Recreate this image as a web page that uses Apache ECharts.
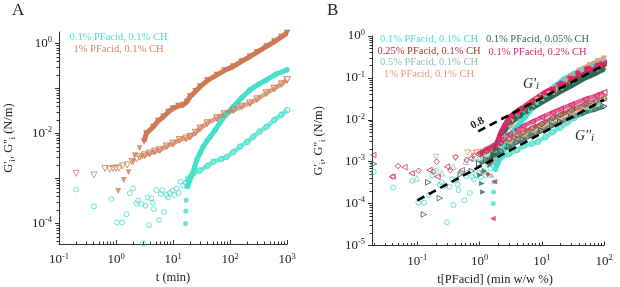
<!DOCTYPE html>
<html><head><meta charset="utf-8">
<script src="https://cdn.jsdelivr.net/npm/echarts@6/dist/echarts.min.js"></script>
<style>html,body{margin:0;padding:0;background:#fff}#c{width:620px;height:287px}</style>
</head><body><div id="c"></div>
<script>
// ---------- Panel A data: [t (min), modulus (N/m)] ----------
const aTealGddScatter = [[0.2,5.7e-4],[0.41,2.4e-4],[0.83,3.5e-4],[1.04,1.05e-4],[1.28,1.05e-4],[1.53,1.6e-4],[1.75,4.7e-4],[2.0,6e-4],[2.3,2.8e-4],[2.45,3.2e-4],[2.8,2.7e-4],[3.0,3.6e-5],[3.3,2.5e-4],[3.6,3.8e-4],[3.8,9.2e-5],[4.2,3.6e-4],[4.4,2.9e-4],[4.6,2.1e-4],[5.1,5.5e-4],[5.7,1.2e-4],[6.1,4.5e-4],[6.5,5.5e-4],[7.0,1.8e-4],[7.7,4.3e-4],[8.2,3.8e-4],[8.8,4.8e-4],[9.8,5.4e-4],[10.5,4.3e-4],[11.5,6e-4],[12.6,4.8e-4],[13.5,8.5e-4],[15,7e-4]];
const aTealGddBand = [[17,8e-4],[18.5,1e-3],[22.6,1.3e-3],[29.5,1.5e-3],[40,1.9e-3],[51,2.35e-3],[70,2.7e-3],[87,3e-3],[115,3.9e-3],[150,5.1e-3],[200,6.5e-3],[257,8.5e-3],[330,1.1e-2],[436,1.4e-2],[600,2e-2],[800,2.6e-2],[1000,3.3e-2]];
const aTealGdScatter = [[16.6,1e-4],[16.8,1.9e-4],[17,3.3e-4]];
const aTealGdBand = [[18,6.6e-4],[19.5,9e-4],[21.5,1.2e-3],[24,1.8e-3],[26,2.6e-3],[30,3.7e-3],[34,5.1e-3],[40,7e-3],[45,8.5e-3],[55,1.2e-2],[66,1.7e-2],[85,2.6e-2],[115,4e-2],[160,6.2e-2],[224,9.3e-2],[320,0.125],[436,0.155],[650,0.21],[1000,0.26]];
const aBrownGdScatter = [[1.09,5.3e-4],[1.37,9.2e-4],[1.66,1.37e-3],[2.0,2.35e-3],[2.14,3.3e-3],[2.6,4.7e-3]];
const aBrownGdBand = [[3.1,6.6e-3],[3.4,1e-2],[4.5,1.4e-2],[5.5,1.9e-2],[6.8,2.35e-2],[8.3,3e-2],[10,3.6e-2],[12.5,4.1e-2],[15,4.3e-2],[17.5,5e-2],[20,6.6e-2],[25,8.7e-2],[30,0.11],[40,0.15],[59,0.2],[80,0.25],[115,0.31],[160,0.4],[224,0.51],[300,0.64],[436,0.86],[600,1.1],[800,1.4],[1000,1.7]];
const aBrownGddScatter = [[0.2,1.3e-3],[0.41,1.2e-3],[0.64,1.67e-3],[0.78,1.6e-3],[0.89,1.67e-3],[1.0,1.7e-3],[1.13,1.7e-3],[1.3,1.9e-3],[1.58,2e-3],[1.9,2.4e-3],[2.3,2.7e-3]];
const aBrownGddBand = [[2.6,3e-3],[3.2,3.3e-3],[3.9,3.6e-3],[4.8,4e-3],[5.9,4.3e-3],[7.7,5.2e-3],[10,6e-3],[13,7.2e-3],[17,7.8e-3],[20,8.5e-3],[25,1.05e-2],[30,1.3e-2],[40,1.7e-2],[59,2.2e-2],[80,2.7e-2],[115,3.3e-2],[160,4e-2],[224,4.7e-2],[300,5.8e-2],[436,7.9e-2],[600,0.1],[800,0.125],[1000,0.155]];

// ---------- Panel B data: [t*[PFacid] (min w/w %), modulus (N/m)] ----------
const bTealGdScatter = [[1.66,1e-4],[1.68,1.9e-4],[1.7,3.3e-4]];
const bTealGdBand = [[1.8,6.6e-4],[1.95,9e-4],[2.15,1.2e-3],[2.4,1.8e-3],[2.6,2.6e-3],[3.0,3.7e-3],[3.4,5.1e-3],[4.0,7e-3],[4.5,8.5e-3],[5.5,1.2e-2],[6.6,1.7e-2],[8.5,2.6e-2],[11.5,4e-2],[16,6.2e-2],[22.4,9.3e-2],[32,0.125],[43.6,0.155],[65,0.21],[100,0.26]];
const bTealGddScatter = [[0.02,5.7e-4],[0.041,2.4e-4],[0.083,3.5e-4],[0.104,1.05e-4],[0.128,1.05e-4],[0.153,1.6e-4],[0.175,4.7e-4],[0.2,6e-4],[0.23,2.8e-4],[0.245,3.2e-4],[0.28,2.7e-4],[0.3,3.6e-5],[0.33,2.5e-4],[0.36,3.8e-4],[0.38,9.2e-5],[0.42,3.6e-4],[0.44,2.9e-4],[0.46,2.1e-4],[0.51,5.5e-4],[0.57,1.2e-4],[0.61,4.5e-4],[0.65,5.5e-4],[0.7,1.8e-4],[0.77,4.3e-4],[0.82,3.8e-4],[0.88,4.8e-4],[0.98,5.4e-4],[1.05,4.3e-4],[1.15,6e-4],[1.26,4.8e-4],[1.35,8.5e-4],[1.5,7e-4]];
const bTealGddBand = [[1.7,8e-4],[1.85,1e-3],[2.26,1.3e-3],[2.95,1.5e-3],[4,1.9e-3],[5.1,2.35e-3],[7,2.7e-3],[8.7,3e-3],[11.5,3.9e-3],[15,5.1e-3],[20,6.5e-3],[25.7,8.5e-3],[33,1.1e-2],[43.6,1.4e-2],[60,2e-2],[80,2.6e-2],[100,3.3e-2]];

const bSalmonGdScatter = [[1.09,5.3e-4],[1.37,9.2e-4],[1.66,1.37e-3],[2.0,2.35e-3],[2.14,3.3e-3],[2.6,4.7e-3]];
const bSalmonGdBand = [[3.1,6.6e-3],[3.4,1e-2],[4.5,1.4e-2],[5.5,1.9e-2],[6.8,2.35e-2],[8.3,3e-2],[10,3.6e-2],[12.5,4.1e-2],[15,4.3e-2],[17.5,5e-2],[20,6.6e-2],[25,8.7e-2],[30,0.11],[40,0.15],[59,0.2],[80,0.25],[100,0.29]];
const bSalmonGddScatter = [[0.2,1.3e-3],[0.41,1.2e-3],[0.64,1.67e-3],[0.78,1.6e-3],[0.89,1.67e-3],[1.0,1.7e-3],[1.13,1.7e-3],[1.3,1.9e-3],[1.58,2e-3],[1.9,2.4e-3],[2.3,2.7e-3]];
const bSalmonGddBand = [[2.6,3e-3],[3.2,3.3e-3],[3.9,3.6e-3],[4.8,4e-3],[5.9,4.3e-3],[7.7,5.2e-3],[10,6e-3],[13,7.2e-3],[17,7.8e-3],[20,8.5e-3],[25,1.05e-2],[30,1.3e-2],[40,1.7e-2],[59,2.2e-2],[80,2.7e-2],[100,3.3e-2]];

const bRedGdScatter = [[1.36,5e-4]];
const bRedGdBand = [[1.5,1e-3],[1.8,2.2e-3],[2.2,4.5e-3],[2.7,8e-3],[3.5,1.2e-2],[5,1.8e-2],[7,2.5e-2],[10,3.5e-2],[15,5e-2],[20,6.3e-2],[30,8.8e-2],[50,0.13],[75,0.17],[100,0.2]];
const bRedGddScatter = [[0.04,4.4e-4],[0.049,7.9e-4],[0.105,6.1e-4],[0.18,5.8e-4],[0.205,1e-3],[0.34,6.3e-4],[0.41,1.3e-3],[0.62,1.1e-3],[0.8,1.4e-3]];
const bRedGddBand = [[1.0,1.5e-3],[1.3,1.8e-3],[1.7,2.2e-3],[2.2,2.8e-3],[3,3.5e-3],[4,4.2e-3],[5,5e-3],[7,6.3e-3],[10,8e-3],[15,1.1e-2],[20,1.3e-2],[30,1.7e-2],[50,2.3e-2],[75,2.8e-2],[100,3.2e-2]];

const bGrayGdScatter = [[1.58,4.8e-4]];
const bGrayGdBand = [[1.75,1.2e-3],[2,2.4e-3],[2.4,4.6e-3],[3,8e-3],[4,1.2e-2],[5,1.6e-2],[7,2.3e-2],[10,3.3e-2],[15,4.7e-2],[20,6e-2],[30,8.5e-2],[50,0.13],[75,0.17],[100,0.21]];
const bGrayGddScatter = [[0.098,4e-4],[0.25,5.3e-4],[0.38,7.6e-4],[0.6,1e-3],[0.8,1.2e-3]];
const bGrayGddBand = [[1.0,1.3e-3],[1.3,1.6e-3],[1.7,2e-3],[2.2,2.5e-3],[3,3.2e-3],[4,4e-3],[5,4.7e-3],[7,6e-3],[10,7.8e-3],[15,1.05e-2],[20,1.3e-2],[30,1.7e-2],[50,2.4e-2],[75,2.9e-2],[100,3.4e-2]];

const bGreenGdScatter = [[1.02,4.8e-4],[1.09,3e-4],[1.13,1.9e-4],[1.2,6e-4],[1.48,8.3e-4]];
const bGreenGdBand = [[1.7,1.5e-3],[2,2.8e-3],[2.4,5e-3],[3,8e-3],[4,1.1e-2],[5,1.4e-2],[7,1.9e-2],[10,2.6e-2],[15,3.7e-2],[20,4.7e-2],[30,6.5e-2],[50,0.1],[75,0.13],[100,0.16]];
const bGreenGddScatter = [[0.0201,8.9e-4],[0.128,5.5e-5],[0.15,3.2e-4],[0.23,1.35e-4],[0.5,5e-4],[0.75,6e-4]];
const bGreenGddBand = [[1.0,9e-4],[1.3,1.1e-3],[1.7,1.4e-3],[2.2,1.8e-3],[3,2.3e-3],[4,2.9e-3],[5,3.4e-3],[7,4.3e-3],[10,5.5e-3],[15,7.3e-3],[20,9e-3],[30,1.15e-2],[50,1.5e-2],[75,1.8e-2],[100,2.1e-2]];

const bPinkGdScatter = [[1.64,4.4e-5],[1.74,3.3e-4],[1.8,8.8e-4]];
const bPinkGdBand = [[1.9,2.75e-3],[2.2,5e-3],[2.6,8e-3],[3.1,1.2e-2],[4,1.6e-2],[5.1,2e-2],[7,2.8e-2],[10.7,4.3e-2],[15,5.7e-2],[20,7.4e-2],[28,0.1],[37,0.13],[55,0.17],[75,0.2],[100,0.23]];
const bPinkGddScatter = [[0.0196,1.45e-3],[0.04,4.4e-4],[0.062,7.4e-4],[0.081,5.3e-4],[0.156,6.3e-4],[0.21,4.4e-4],[0.3,7.6e-4],[0.52,6.3e-4],[0.71,1.2e-3]];
const bPinkGddBand = [[1.0,1.6e-3],[1.3,2e-3],[1.7,2.5e-3],[2.2,3.3e-3],[3,4.5e-3],[4,5.8e-3],[5,7e-3],[7,9e-3],[10,1.15e-2],[15,1.5e-2],[20,1.8e-2],[30,2.3e-2],[50,3.1e-2],[75,3.8e-2],[100,4.5e-2]];

// power-law guide lines (slope 0.8)
const bGdFit = [[0.95,5.3e-3],[100,0.2]];
const bGddFit = [[0.1,1.2e-4],[100,3e-2]];

// ---------- ticks ----------
const aXTicks = [0.1,1,10,100,1000];
const aYTicks = [1e-4,1e-3,1e-2,1e-1,1];
const aYLabels = [1e-4,1e-2,1];
const bXTicks = [0.1,1,10,100];
const bYTicks = [1e-5,1e-4,1e-3,1e-2,1e-1,1];
const minorMult = [2,3,4,5,6,7,8,9];
function minors(lo, hi){ const out=[]; for(let e=lo;e<=hi;e++){ for(const m of minorMult){ out.push(m*Math.pow(10,e)); } } return out; }

// ---------- legend texts ----------
const aLegend = [['0.1% PFacid, 0.1% CH','#45dfca'],['1% PFacid, 0.1% CH','#d3845f']];
const bLegend1 = [['0.1% PFacid, 0.1% CH','#45dfca'],['0.25% PFacid, 0.1% CH','#a5382f'],['0.5% PFacid, 0.1% CH','#8dbfb0'],['1% PFacid, 0.1% CH','#dea07f']];
const bLegend2 = [['0.1% PFacid, 0.05% CH','#2e6a57'],['0.1% PFacid, 0.2% CH','#e0246e']];

const FONT = 'Liberation Serif';
const AX = '#333';
const tickRich = {
  b:{fontSize:13,fontFamily:FONT,color:'#222',lineHeight:16},
  s:{fontSize:8.5,fontFamily:FONT,color:'#222',lineHeight:9,verticalAlign:'top'}
};
function expFmt(v){ const e=Math.round(Math.log10(v)); return '{b|10}{s|'+e+'}'; }
const yName = '{t|G\'}{u|i}{t|, G\'\'}{u|i}{t| (N/m)}';
const yNameRich = {t:{fontSize:12.5,fontFamily:FONT,color:'#222',lineHeight:16},u:{fontSize:8.5,fontFamily:FONT,color:'#222',lineHeight:9,verticalAlign:'bottom'}};

function mainX(grid,min,max,ticks,labels,name,pad){
  return {type:'log',gridIndex:grid,min:min,max:max,position:'bottom',
    axisLine:{show:true,onZero:false,lineStyle:{color:AX,width:1}},
    axisTick:{show:true,inside:true,length:4,lineStyle:{color:AX,width:1},customValues:ticks},
    axisLabel:{margin:8,customValues:labels,formatter:expFmt,rich:tickRich},
    splitLine:{show:false},
    name:name,nameLocation:'middle',nameGap:26,
    nameTextStyle:{fontFamily:FONT,fontSize:12.5,color:'#222',verticalAlign:'top',padding:pad}};
}
function minorX(grid,min,max,vals){
  return {type:'log',gridIndex:grid,min:min,max:max,position:'bottom',
    axisLine:{show:false,onZero:false},axisLabel:{show:false},splitLine:{show:false},
    axisTick:{show:true,inside:true,length:2.5,lineStyle:{color:AX,width:1},customValues:vals}};
}
function mainY(grid,min,max,ticks,labels,gap){
  return {type:'log',gridIndex:grid,min:min,max:max,position:'left',
    axisLine:{show:true,onZero:false,lineStyle:{color:AX,width:1}},
    axisTick:{show:true,inside:false,length:4,lineStyle:{color:AX,width:1},customValues:ticks},
    axisLabel:{margin:7,customValues:labels,formatter:expFmt,rich:tickRich},
    splitLine:{show:false},
    name:yName,nameLocation:'middle',nameGap:gap,nameRotate:90,
    nameTextStyle:{rich:yNameRich}};
}
function minorY(grid,min,max,vals){
  return {type:'log',gridIndex:grid,min:min,max:max,position:'left',
    axisLine:{show:false,onZero:false},axisLabel:{show:false},splitLine:{show:false},
    axisTick:{show:true,inside:false,length:2.5,lineStyle:{color:AX,width:1},customValues:vals}};
}

const series = [];
function styleFor(color, filled){
  return filled ? {color:color} : {color:'rgba(0,0,0,0)',borderColor:color,borderWidth:1};
}
function addCurve(axisIdx, color, symbol, rot, filled, scatter, band, size){
  const st = styleFor(color, filled);
  series.push({type:'scatter',xAxisIndex:axisIdx,yAxisIndex:axisIdx,data:scatter,symbol:symbol,symbolRotate:rot,
    symbolSize:size,itemStyle:st,silent:true});
  series.push({type:'line',xAxisIndex:axisIdx,yAxisIndex:axisIdx,data:band,symbol:symbol,symbolRotate:rot,
    symbolSize:size+0.5,showSymbol:true,itemStyle:st,lineStyle:{color:color,width:filled?5:4.5,opacity:filled?1:0.7},silent:true});
}
// Panel A
const cTeal='#45dfca', cBrown='#cf7a56';
addCurve(0,cTeal,'circle',0,false,aTealGddScatter,aTealGddBand,5);
addCurve(0,cTeal,'circle',0,true,aTealGdScatter,aTealGdBand,5);
addCurve(0,cBrown,'triangle',180,false,aBrownGddScatter,aBrownGddBand,6);
addCurve(0,cBrown,'triangle',180,true,aBrownGdScatter,aBrownGdBand,6);
// Panel B
const cSalmon='#dea07f', cRed='#a5382f', cGray='#8dbfb0', cGreen='#2e6a57', cPink='#e0246e';
addCurve(2,cTeal,'circle',0,false,bTealGddScatter,bTealGddBand,5);
addCurve(2,cTeal,'circle',0,true,bTealGdScatter,bTealGdBand,5);
addCurve(2,cGray,'triangle',0,false,bGrayGddScatter,bGrayGddBand,5.5);
addCurve(2,cGray,'triangle',0,true,bGrayGdScatter,bGrayGdBand,5.5);
addCurve(2,cSalmon,'triangle',180,false,bSalmonGddScatter,bSalmonGddBand,5.5);
addCurve(2,cSalmon,'triangle',180,true,bSalmonGdScatter,bSalmonGdBand,5.5);
addCurve(2,cRed,'diamond',0,false,bRedGddScatter,bRedGddBand,5.5);
addCurve(2,cRed,'diamond',0,true,bRedGdScatter,bRedGdBand,5.5);
addCurve(2,cGreen,'triangle',-90,false,bGreenGddScatter,bGreenGddBand,5.5);
addCurve(2,cGreen,'triangle',-90,true,bGreenGdScatter,bGreenGdBand,5.5);
addCurve(2,cPink,'triangle',90,false,bPinkGddScatter,bPinkGddBand,5.5);
addCurve(2,cPink,'triangle',90,true,bPinkGdScatter,bPinkGdBand,5.5);
[bGdFit,bGddFit].forEach(d=>series.push({type:'line',xAxisIndex:2,yAxisIndex:2,data:d,symbol:'none',z:10,silent:true,
  lineStyle:{color:'#000',width:2.6,type:[8,5]}}));

const graphic = [
  {type:'text',x:12,y:2,style:{text:'A',font:'17px "Liberation Serif"',fill:'#222'}},
  {type:'text',x:327,y:2,style:{text:'B',font:'17px "Liberation Serif"',fill:'#222'}},
  {type:'text',x:480,y:128,rotation:0.5,style:{text:'0.8',font:'bold 11px "Liberation Serif"',fill:'#222',textAlign:'center',textVerticalAlign:'bottom'}},
  {type:'text',x:523,y:76,style:{text:'{g|G\'}{i|i}',rich:{g:{font:'italic 14px "Liberation Serif"',fill:'#222',lineHeight:16},i:{font:'italic 11px "Liberation Serif"',fill:'#222',lineHeight:10,verticalAlign:'bottom'}}}},
  {type:'text',x:575,y:128,style:{text:'{g|G\'\'}{i|i}',rich:{g:{font:'italic 14px "Liberation Serif"',fill:'#222',lineHeight:16},i:{font:'italic 11px "Liberation Serif"',fill:'#222',lineHeight:10,verticalAlign:'bottom'}}}}
];
aLegend.forEach((l,i)=>graphic.push({type:'text',x:118.5,y:37.5+12*i,style:{text:l[0],fill:l[1],font:'10.5px "Liberation Serif"',textAlign:'center',textVerticalAlign:'middle'}}));
bLegend1.forEach((l,i)=>graphic.push({type:'text',x:429,y:39.5+11.5*i,style:{text:l[0],fill:l[1],font:'10.5px "Liberation Serif"',textAlign:'center',textVerticalAlign:'middle'}}));
bLegend2.forEach((l,i)=>graphic.push({type:'text',x:537.5,y:39.5+12.3*i,style:{text:l[0],fill:l[1],font:'10.5px "Liberation Serif"',textAlign:'center',textVerticalAlign:'middle'}}));

const option = {
  animation:false,
  backgroundColor:'#fff',
  grid:[{left:59,top:32,width:228,height:212,containLabel:false,outerBoundsMode:'none'},
        {left:372,top:36,width:232,height:209.5,containLabel:false,outerBoundsMode:'none'}],
  xAxis:[mainX(0,0.1,1000,aXTicks,aXTicks,'t (min)',[0,0,0,0]), minorX(0,0.1,1000,minors(-1,2)),
         mainX(1,0.0187,100,bXTicks,bXTicks,'t[PFacid] (min w/w %)',[0,0,0,14]), minorX(1,0.0187,100,minors(-2,1))],
  yAxis:[mainY(0,3.5e-5,1.8,aYTicks,aYLabels,42), minorY(0,3.5e-5,1.8,minors(-5,0)),
         mainY(1,1e-5,1,bYTicks,bYTicks,45), minorY(1,1e-5,1,minors(-5,-1))],
  series:series,
  graphic:graphic
};
const chart = echarts.init(document.getElementById('c'),null,{renderer:'canvas'});
chart.setOption(option);
</script></body></html>
